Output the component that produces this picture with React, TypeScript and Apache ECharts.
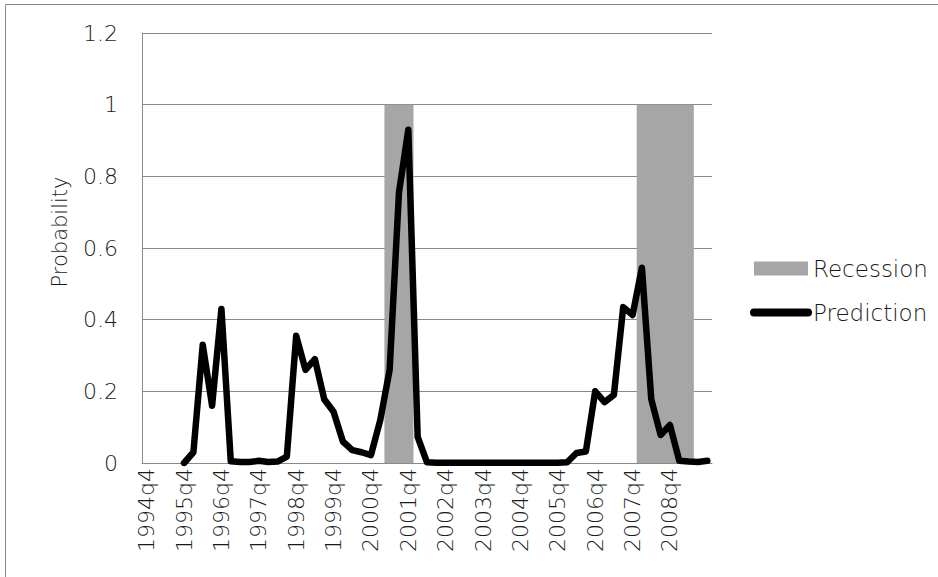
import React, { useEffect, useRef } from "react";
import * as echarts from "echarts";

const startYear = 1994;
const startQuarter = 4;
const quarterCount = 61;
const categories: string[] = [];
for (let i = 0; i < quarterCount; i++) {
  const q = startQuarter - 1 + i;
  categories.push(`${startYear + Math.floor(q / 4)}q${(q % 4) + 1}`);
}

const recession: (number | null)[] = [
  0, 0, 0, 0, 0, 0, 0, 0, 0, 0,
  0, 0, 0, 0, 0, 0, 0, 0, 0, 0,
  0, 0, 0, 0, 0, 0, 1, 1, 1, 0,
  0, 0, 0, 0, 0, 0, 0, 0, 0, 0,
  0, 0, 0, 0, 0, 0, 0, 0, 0, 0,
  0, 0, 0, 1, 1, 1, 1, 1, 1, 0,
  0,
];

const prediction: (number | null)[] = [
  null, null, null, null, 0, 0.03, 0.33, 0.16, 0.43, 0.005,
  0.003, 0.003, 0.006, 0.003, 0.004, 0.018, 0.355, 0.26, 0.29, 0.178,
  0.143, 0.06, 0.036, 0.03, 0.022, 0.12, 0.26, 0.755, 0.93, 0.073,
  0.002, 0.001, 0.001, 0.001, 0.001, 0.001, 0.001, 0.001, 0.001, 0.001,
  0.001, 0.001, 0.001, 0.001, 0.001, 0.002, 0.028, 0.032, 0.2, 0.17,
  0.19, 0.435, 0.413, 0.545, 0.178, 0.078, 0.106, 0.006, 0.004, 0.003,
  0.006,
];

const FONT = "DejaVu Sans";
const TEXT = "#1a1a1a";
const GRID = "#8a8a8a";
const BAR = "#a6a6a6";

export default function App() {
  const ref = useRef<HTMLDivElement>(null);
  useEffect(() => {
    if (!ref.current) return;
    const chart = echarts.init(ref.current, null, { renderer: "svg" });
    chart.setOption({
      animation: false,
      backgroundColor: "#ffffff",
      textStyle: { fontFamily: FONT, fontWeight: 200 },
      grid: { left: 142, right: 226, top: 33, bottom: 114 },
      legend: {
        orient: "vertical",
        left: 745,
        top: 252,
        itemWidth: 54,
        itemHeight: 14,
        itemGap: 21,
        textStyle: { fontSize: 23, color: TEXT, fontFamily: FONT, fontWeight: 200 },
        data: [
          { name: "Recession", icon: "rect" },
          {
            name: "Prediction",
            itemStyle: { opacity: 0 },
            lineStyle: { width: 8, cap: "round", color: "#000" },
          },
        ],
      },
      xAxis: {
        type: "category",
        data: categories,
        boundaryGap: true,
        axisLine: { show: true, lineStyle: { color: GRID, width: 1 } },
        axisTick: { show: false },
        axisLabel: {
          interval: (i: number) => i % 4 === 0 && i < quarterCount - 1,
          rotate: 90,
          margin: 5,
          fontSize: 22,
          color: TEXT,
          fontFamily: FONT,
          fontWeight: 200,
        },
        splitLine: { show: false },
      },
      yAxis: {
        type: "value",
        min: 0,
        max: 1.2,
        interval: 0.2,
        axisLine: { show: true, lineStyle: { color: GRID, width: 1 } },
        axisTick: { show: false },
        axisLabel: {
          margin: 24,
          fontSize: 22,
          color: TEXT,
          fontFamily: FONT,
          fontWeight: 200,
        },
        splitLine: { show: true, lineStyle: { color: GRID, width: 1 } },
      },
      graphic: [
        {
          type: "rect",
          shape: { x: 5.5, y: 4.5, width: 1000, height: 1000 },
          style: { fill: "none", stroke: GRID, lineWidth: 1 },
          silent: true,
        },
        {
          type: "text",
          x: 60,
          y: 232,
          rotation: Math.PI / 2,
          style: {
            text: "Probability",
            fontSize: 21,
            fontFamily: FONT,
            fontWeight: 200,
            fill: TEXT,
            align: "center",
            verticalAlign: "middle",
          },
        },
      ],
      series: [
        {
          name: "Recession",
          type: "bar",
          data: recession,
          barWidth: 10.4,
          itemStyle: { color: BAR },
          z: 1,
        },
        {
          name: "Prediction",
          type: "line",
          data: prediction,
          symbol: "none",
          showSymbol: false,
          connectNulls: false,
          lineStyle: { color: "#000000", width: 6.5, cap: "round", join: "round" },
          itemStyle: { color: "#000000" },
          z: 3,
        },
      ],
    });
    return () => chart.dispose();
  }, []);
  return (
    <div
      ref={ref}
      style={{ position: "fixed", left: 0, top: 0, width: 938, height: 577 }}
    />
  );
}
